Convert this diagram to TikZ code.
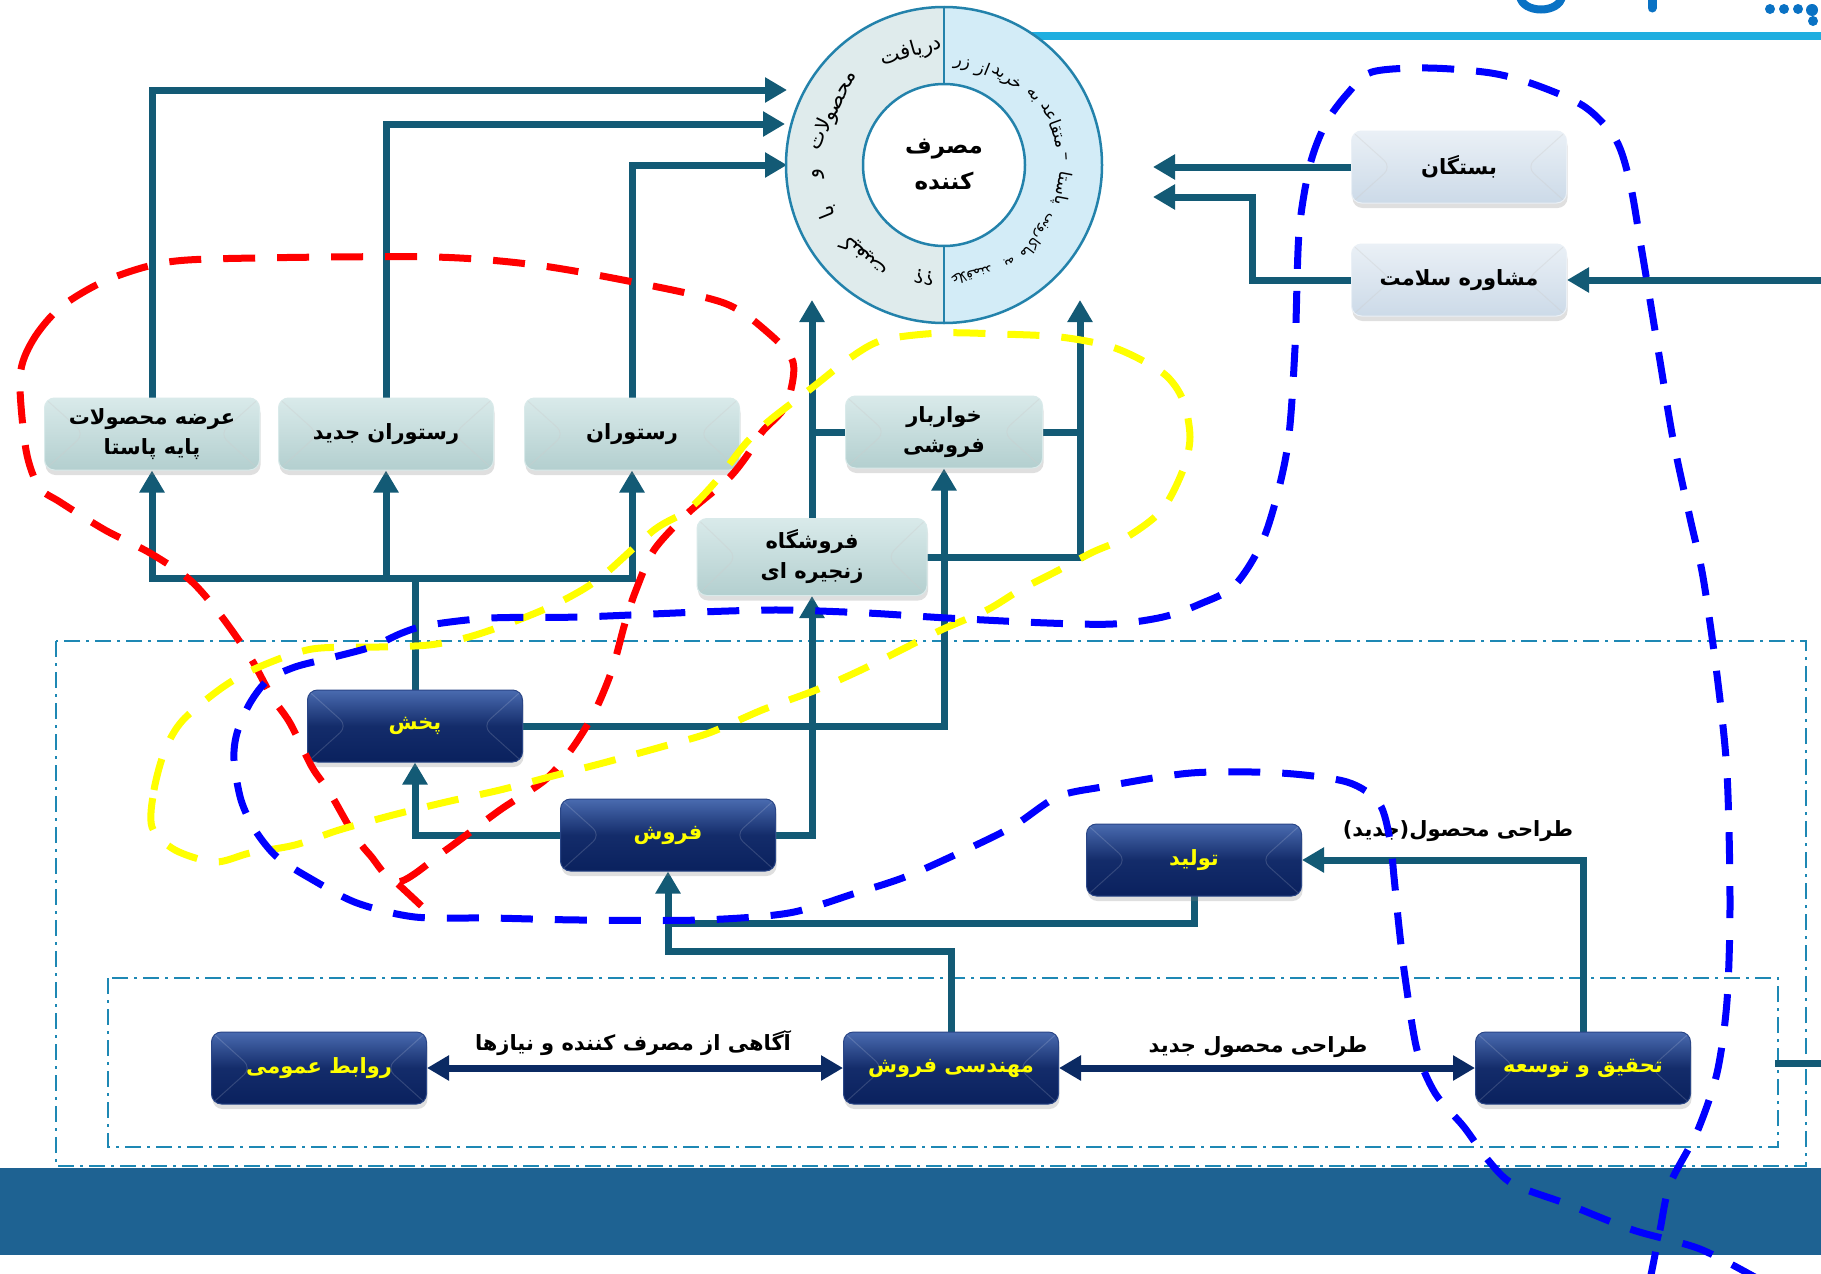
\documentclass[tikz,border=0pt]{standalone}
\usepackage{fontspec}
\usetikzlibrary{arrows.meta,shadows,calc}
\TeXXeTstate=1
\newfontfamily\arabicfont[Script=Arabic]{DejaVu Sans}
\newcommand\pers[1]{{\beginR #1\endR}}
\pgfdeclarelayer{bg}\pgfdeclarelayer{lines}\pgfdeclarelayer{fg}
\pgfsetlayers{bg,lines,main,fg}
\definecolor{connc}{HTML}{135A75}
\definecolor{navyarrow}{HTML}{0B2A63}
\definecolor{framec}{HTML}{1E88B4}
\definecolor{bandc}{HTML}{1E6292}
\definecolor{ringL}{HTML}{DFEBEC}
\definecolor{ringR}{HTML}{D3ECF7}
\definecolor{ringB}{HTML}{2382AB}
\definecolor{lbTop}{HTML}{D9EAEA}
\definecolor{lbBot}{HTML}{B3CFCF}
\definecolor{pbTop}{HTML}{EAF0F6}
\definecolor{pbBot}{HTML}{CCDAE8}
\definecolor{dbTop}{HTML}{4A6BB0}
\definecolor{dbBot}{HTML}{0A215E}
\definecolor{titleblue}{HTML}{1FAEE0}
\definecolor{titledark}{HTML}{0A72C4}
\definecolor{gyel}{HTML}{FFFF00}
\definecolor{cred}{HTML}{FF0000}
\definecolor{cyel}{HTML}{FFFF00}
\definecolor{cblue}{HTML}{0000FF}
\newcommand\ringword[5]{\path (C) ++({-(#1)}:#2) node[rotate=#1-90, font=\arabicfont\fontsize{#3}{#3}\selectfont, inner sep=0pt] (#4) {\beginR #5\endR};}
\tikzset{
  boxfont/.style={font=\arabicfont\bfseries\fontsize{21}{30}\selectfont},
  bevel/.style={path picture={
     \draw[#1, line width=1pt] (path picture bounding box.north west) -- ([xshift=40pt]path picture bounding box.west) -- (path picture bounding box.south west);
     \draw[#1, line width=1pt] (path picture bounding box.north east) -- ([xshift=-40pt]path picture bounding box.east) -- (path picture bounding box.south east);}},
  lightbox/.style={boxfont, rounded corners=10pt, minimum width=215pt, minimum height=72pt, inner sep=0pt, align=center,
     top color=lbTop, bottom color=lbBot, draw=lbTop, line width=1pt,
     drop shadow={shadow xshift=1pt, shadow yshift=-5pt, opacity=0.25}, bevel={black!20, opacity=0.35}},
  palebox/.style={lightbox, top color=pbTop, bottom color=pbBot, draw=pbTop},
  darkbox/.style={lightbox, top color=dbTop, bottom color=dbBot, middle color=dbBot!85!dbTop, text=gyel, draw=dbTop!50!dbBot, bevel={white, opacity=0.15}},
  conn/.style={draw=connc, line width=7pt, line cap=rect},
  arr/.style={conn, -{Triangle[length=22pt,width=24pt]}},
  dbl/.style={draw=navyarrow, line width=7pt, {Triangle[length=22pt,width=24pt]}-{Triangle[length=22pt,width=24pt]}},
  lbl/.style={font=\arabicfont\bfseries\fontsize{21}{26}\selectfont, text=black, inner sep=1pt},
  framebox/.style={draw=framec, line width=2.5pt, dash pattern=on 16pt off 6pt on 3pt off 6pt},
  curve/.style={line width=7pt, dash pattern=on 32pt off 22pt}
}
\begin{document}
\begin{tikzpicture}[x=1pt,y=-1pt]
\useasboundingbox (0,0) rectangle (1821,1274);
\begin{pgfonlayer}{bg}
\fill[white] (0,0) rectangle (1821,1274);
\fill[bandc] (0,1168) rectangle (1821,1255);
\draw[framebox] (56,641) rectangle (1806,1166);
\draw[framebox] (108,978) rectangle (1778,1147);
\draw[titleblue, line width=8pt] (944,36) -- (1821,36);
% cut-off title fragments
\draw[titledark, line width=8pt, line cap=round] (1520,-4) .. controls (1522,14) and (1560,14) .. (1562,-4);
\draw[titledark, line width=9pt, line cap=round] (1652,-4) -- (1652,8);
\fill[titledark] (1770,9) circle[radius=5] (1784,9) circle[radius=5] (1798,9) circle[radius=5] (1812,10) circle[radius=6] (1813,21) circle[radius=5];
\end{pgfonlayer}

% ring
\coordinate (C) at (944,165);
\begin{scope}\clip (780,0) rectangle (944,330); \fill[ringL] (C) circle[radius=158]; \end{scope}
\begin{scope}\clip (944,0) rectangle (1110,330); \fill[ringR] (C) circle[radius=158]; \end{scope}
\draw[ringB, line width=2.5pt] (C) circle[radius=158];
\draw[ringB, line width=2.5pt] (944,7) -- (944,323);
\draw[ringB, line width=2.5pt, fill=white] (C) circle[radius=81];
\node[align=center, inner sep=0pt, font=\arabicfont\bfseries\fontsize{23}{36}\selectfont] (cons) at (C) {\pers{مصرف}\\\pers{کننده}};

% ring words, left half
\ringword{106}{118}{21}{w1}{دریافت}
\ringword{154}{124}{21}{w2}{محصولات}
\ringword{184}{126}{21}{w3}{و}
\ringword{202}{126}{21}{w4}{با}
\ringword{229}{122}{21}{w5}{کیفیت}
\ringword{260}{114}{19}{w6}{؟؟}
% ring words, right half
\ringword{-76}{114}{14}{v1}{علاقمند}
\ringword{-56}{116}{14}{v2}{به}
\ringword{-37}{118}{14}{v3}{ماکارونی}
\ringword{-11}{120}{17}{v5}{پاستا}
\ringword{4}{121}{17}{v6}{–}
\ringword{20}{119}{17}{v7}{متقاعد}
\ringword{38}{112}{17}{v8}{به}
\ringword{54}{106}{17}{v9}{خرید}
\ringword{68}{103}{17}{v10}{از}
\ringword{80}{102}{17}{v11}{زر}

% boxes
\node[lightbox] (b1) at (152,434) {\pers{عرضه محصولات}\\\pers{پایه پاستا}};
\node[lightbox] (b2) at (386,434) {\pers{رستوران جدید}};
\node[lightbox] (b3) at (632,434) {\pers{رستوران}};
\node[lightbox, minimum width=197pt] (kh) at (944,432) {\pers{خواربار}\\\pers{فروشی}};
\node[lightbox, minimum width=230pt, minimum height=77pt] (fz) at (812,557) {\pers{فروشگاه}\\\pers{زنجیره ای}};
\node[palebox] (bs) at (1459,167) {\pers{بستگان}};
\node[palebox] (ms) at (1459,280) {\pers{مشاوره سلامت}};
\node[darkbox] (pk) at (415,726) {\pers{پخش}};
\node[darkbox] (fr) at (668,835) {\pers{فروش}};
\node[darkbox] (tv) at (1194,860) {\pers{تولید}};
\node[darkbox] (rv) at (319,1068) {\pers{روابط عمومی}};
\node[darkbox] (mf) at (951,1068) {\pers{مهندسی فروش}};
\node[darkbox] (tt) at (1583,1068) {\pers{تحقیق و توسعه}};

% labels
\node[lbl] (l1) at (633,1043) {\pers{آگاهی از مصرف کننده و نیازها}};
\node[lbl] (l2) at (1258,1047) {\pers{طراحی محصول جدید}};
\node[lbl] (l3) at (1458,831) {\pers{طراحی محصول(جدید)}};

% connectors
\coordinate (tipA) at (812,300);
\coordinate (tipB) at (1080,300);
\coordinate (t1) at (787,90);
\coordinate (t2) at (785,124);
\coordinate (t3) at (787,165);
\coordinate (r1) at (1153,166);
\coordinate (r2) at (1153,197);
\coordinate (r3) at (1252,197);
\coordinate (redge) at (1821,280);
\coordinate (bus) at (415,578);
\coordinate (j1) at (668,923);
\coordinate (j2) at (668,951);
\coordinate (s1) at (1778,1063);
\coordinate (s2) at (1821,1063);
\begin{pgfonlayer}{lines}
\draw[arr] (fz.north) -- (tipA);
\draw[conn] (kh.west) -- (kh.west -| tipA);
\draw[arr] (fz.east) -| (tipB);
\draw[conn] (kh.east) -- (kh.east -| tipB);
\draw[arr] (b1.north) |- (t1);
\draw[arr] (b2.north) |- (t2);
\draw[arr] (b3.north) |- (t3);
\draw[arr] (bs.west) -- (bs.west -| r1);
\draw[arr] (ms.west) -| (r3) -- (r2);
\draw[arr] (redge) -- (ms.east);
\draw[conn] (pk.north) -- (bus);
\draw[conn] (b1.south |- bus) -- (b3.south |- bus);
\foreach \n in {b1,b2,b3} \draw[arr] (\n.south |- bus) -- (\n.south);
\draw[arr] (pk.east) -| (kh.south);
\draw[arr] (fr.west) -| (pk.south);
\draw[arr] (fr.east) -| (fz.south);
\draw[conn] (tv.south) |- (j1);
\draw[arr] (mf.north) |- (j2) -- (fr.south);
\draw[arr] (tt.north) |- (tv.east);
\draw[dbl] (rv.east) -- (mf.west);
\draw[dbl] (mf.east) -- (tt.west);
\draw[conn] (s1) -- (s2);
\end{pgfonlayer}

% dashed outlines
\begin{pgfonlayer}{fg}
\draw[curve, cred] plot[smooth cycle] coordinates {(20,377) (33,340) (61,307) (107,280) (168,262) (255,258) (434,257) (536,265) (638,283) (724,303) (765,330) (793,362) (786,405) (762,432) (746,457) (727,480) (688,513) (654,550) (636,590) (625,623) (612,670) (594,713) (571,750) (545,780) (500,810) (446,850) (398,882) (370,855) (353,833) (330,793) (312,767) (290,723) (272,697) (250,657) (219,613) (190,580) (150,553) (105,530) (60,502) (39,487) (26,450)};
\draw[curve, cred] (398,884) -- (428,912);
\draw[curve, cyel] plot[smooth cycle] coordinates {(152,827) (154,790) (165,750) (183,720) (223,687) (259,667) (312,649) (379,647) (429,645) (469,637) (513,622) (558,603) (600,578) (654,530) (688,510) (717,480) (746,443) (770,420) (813,387) (850,358) (883,340) (940,333) (999,334) (1060,337) (1115,348) (1163,373) (1183,400) (1190,437) (1183,470) (1162,510) (1127,537) (1093,552) (1057,571) (1020,590) (987,610) (941,630) (901,650) (861,670) (816,690) (762,710) (709,733) (661,747) (603,763) (549,777) (500,790) (446,802) (393,815) (339,830) (295,845) (250,853) (215,862) (175,850)};
\draw[curve, cblue] plot[smooth] coordinates {(1760,1280) (1700,1249) (1633,1230) (1567,1204) (1513,1184) (1488,1160) (1464,1127) (1435,1093) (1417,1050) (1405,977) (1399,927) (1394,877) (1390,840) (1379,803) (1347,782) (1280,773) (1191,773) (1102,787) (1057,797) (1012,827) (959,853) (905,877) (856,893) (789,913) (700,920) (580,920) (491,918) (415,917) (357,903) (313,880) (277,857) (255,830) (241,800) (234,760) (237,733) (250,703) (268,680) (295,667) (330,658) (371,647) (402,633) (429,625) (491,618) (580,617) (700,612) (780,610) (867,613) (947,618) (1047,623) (1113,624) (1163,617) (1200,604) (1235,585) (1265,535) (1287,450) (1295,348) (1299,233) (1310,165) (1326,123) (1348,93) (1372,72) (1428,68) (1491,73) (1536,85) (1585,107) (1616,140) (1630,183) (1640,240) (1650,300) (1660,361) (1673,439) (1690,518) (1703,577) (1717,675) (1727,773) (1730,903) (1727,1001) (1717,1073) (1697,1132) (1670,1184) (1660,1230) (1650,1280)};
\end{pgfonlayer}
\end{tikzpicture}
\end{document}
